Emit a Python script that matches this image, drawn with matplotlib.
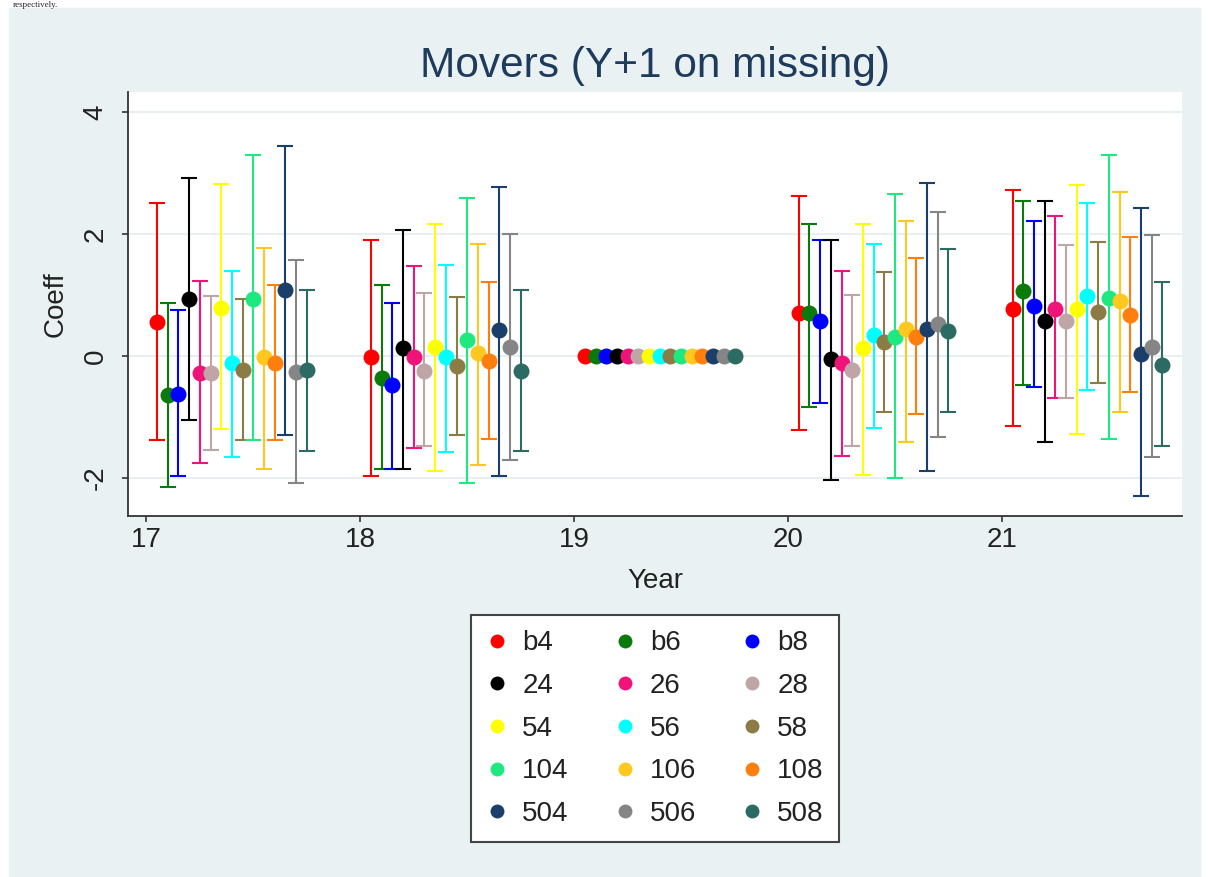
import numpy as np
import matplotlib
matplotlib.use("Agg")
import matplotlib.pyplot as plt
from matplotlib.patches import Rectangle
from matplotlib.lines import Line2D

plt.rcParams['font.family'] = ['Liberation Sans', 'DejaVu Sans']

# years on x axis
years = [17, 18, 19, 20, 21]

# series names and colours (Stata s2color-ish)
labels = ['b4', 'b6', 'b8', '24', '26', '28', '54', '56', '58',
          '104', '106', '108', '504', '506', '508']
colors = ['#FF0000', '#0A7A0A', '#0000FF', '#000000', '#F0147A', '#BFA5A5',
          '#FFFF00', '#00FFFF', '#8B7B45', '#1EE880', '#FFC81E', '#FF7F0E',
          '#1B3F6B', '#858585', '#2B6B64']

# point estimates, one row per series, columns = years 17..21
coef = [
    [0.56, -0.02, 0, 0.70, 0.78],
    [-0.64, -0.35, 0, 0.70, 1.07],
    [-0.62, -0.47, 0, 0.58, 0.83],
    [0.94, 0.13, 0, -0.05, 0.58],
    [-0.27, -0.02, 0, -0.11, 0.78],
    [-0.28, -0.24, 0, -0.22, 0.58],
    [0.79, 0.15, 0, 0.13, 0.78],
    [-0.12, -0.01, 0, 0.34, 0.98],
    [-0.22, -0.16, 0, 0.23, 0.73],
    [0.94, 0.27, 0, 0.32, 0.96],
    [-0.02, 0.05, 0, 0.45, 0.90],
    [-0.11, -0.08, 0, 0.32, 0.67],
    [1.08, 0.43, 0, 0.45, 0.04],
    [-0.26, 0.15, 0, 0.53, 0.15],
    [-0.22, -0.24, 0, 0.41, -0.15],
]
# upper / lower confidence bounds
ci_hi = [
    [2.51, 1.91, 0, 2.62, 2.73],
    [0.87, 1.16, 0, 2.17, 2.54],
    [0.75, 0.87, 0, 1.91, 2.21],
    [2.92, 2.06, 0, 1.91, 2.54],
    [1.24, 1.47, 0, 1.39, 2.29],
    [0.98, 1.03, 0, 1.01, 1.83],
    [2.83, 2.16, 0, 2.16, 2.81],
    [1.40, 1.50, 0, 1.84, 2.51],
    [0.94, 0.97, 0, 1.38, 1.87],
    [3.29, 2.59, 0, 2.66, 3.29],
    [1.77, 1.84, 0, 2.21, 2.69],
    [1.16, 1.21, 0, 1.61, 1.96],
    [3.44, 2.77, 0, 2.84, 2.43],
    [1.57, 2.00, 0, 2.36, 1.98],
    [1.09, 1.08, 0, 1.76, 1.21],
]
ci_lo = [
    [-1.37, -1.97, 0, -1.21, -1.14],
    [-2.15, -1.85, 0, -0.84, -0.47],
    [-1.97, -1.85, 0, -0.76, -0.50],
    [-1.04, -1.85, 0, -2.03, -1.40],
    [-1.75, -1.51, 0, -1.64, -0.69],
    [-1.53, -1.48, 0, -1.48, -0.69],
    [-1.20, -1.89, 0, -1.95, -1.27],
    [-1.65, -1.57, 0, -1.18, -0.55],
    [-1.37, -1.29, 0, -0.92, -0.44],
    [-1.37, -2.08, 0, -1.99, -1.36],
    [-1.85, -1.78, 0, -1.40, -0.91],
    [-1.37, -1.36, 0, -0.95, -0.59],
    [-1.29, -1.97, 0, -1.89, -2.30],
    [-2.08, -1.70, 0, -1.33, -1.66],
    [-1.55, -1.55, 0, -0.92, -1.48],
]

W, H = 1208, 877
fig = plt.figure(figsize=(W / 100, H / 100), dpi=100)
fig.patch.set_facecolor('white')
# stata graph region
fig.patches.append(Rectangle((9 / W, 0), (1200 - 9) / W, (H - 8) / H,
                             transform=fig.transFigure, color='#E9F1F3', zorder=-10))
# leftover caption line from the page above the chart
fig.text(13 / W, 1 - 7 / H, 'respectively.', family='Liberation Serif',
         fontsize=6.5, va='baseline', color='#222222')

ax = fig.add_axes([128 / W, 1 - 516 / H, (1182 - 128) / W, (516 - 92) / H])
ax.set_facecolor('white')

yrs = np.array(years, dtype=float)
for k in range(len(labels)):
    xs = yrs + 0.05 * (k + 1)
    c = np.array(coef[k])
    lo = np.array(ci_lo[k])
    hi = np.array(ci_hi[k])
    m = hi != lo
    ax.errorbar(xs[m], c[m], yerr=[c[m] - lo[m], hi[m] - c[m]], fmt='none',
                ecolor=colors[k], elinewidth=1.5, capsize=5.5, capthick=1.5, zorder=2)
for k in range(len(labels)):
    xs = yrs + 0.05 * (k + 1)
    ax.plot(xs, coef[k], 'o', color=colors[k], markersize=11.5, markeredgewidth=0,
            zorder=3, label=labels[k])

ax.set_xlim(16.914, 21.842)
ax.set_ylim(-2.62, 4.33)
ax.set_xticks(years)
ax.set_yticks([-2, 0, 2, 4])
ax.set_yticklabels(['-2', '0', '2', '4'], rotation=90, va='center')
ax.grid(axis='y', color='#E4ECEE', linewidth=1.2)
ax.set_axisbelow(True)
for s in ['top', 'right']:
    ax.spines[s].set_visible(False)
for s in ['left', 'bottom']:
    ax.spines[s].set_color('#333333')
    ax.spines[s].set_linewidth(1.3)
ax.tick_params(length=4, width=1.2, color='#333333', labelsize=20,
               labelcolor='#222222')
ax.tick_params(axis='y', pad=10)
ax.tick_params(axis='x', pad=4)
ax.set_xlabel('Year', fontsize=20, color='#222222', labelpad=11)
ax.set_ylabel('Coeff', fontsize=20, color='#222222', labelpad=10)
ax.set_title('Movers (Y+1 on missing)', fontsize=30.5, color='#1F3B5C', pad=11)

# legend, filled row by row like stata
handles = [Line2D([], [], marker='o', ls='', color=colors[k], markersize=10,
                  markeredgewidth=0) for k in range(len(labels))]
order = [i for col in range(3) for i in range(col, len(labels), 3)]
leg = fig.legend([handles[i] for i in order], [labels[i] for i in order],
                 loc='upper center', bbox_to_anchor=(655 / W, 1 - 615 / H),
                 borderaxespad=0, ncol=3, fontsize=20, frameon=True,
                 fancybox=False, edgecolor='#444444', framealpha=1,
                 handlelength=0.8, handletextpad=0.5, columnspacing=1.62,
                 labelspacing=0.6, borderpad=0.55)
leg.get_frame().set_linewidth(1.5)
for t in leg.get_texts():
    t.set_color('#222222')

fig.savefig('out.png', dpi=100)
